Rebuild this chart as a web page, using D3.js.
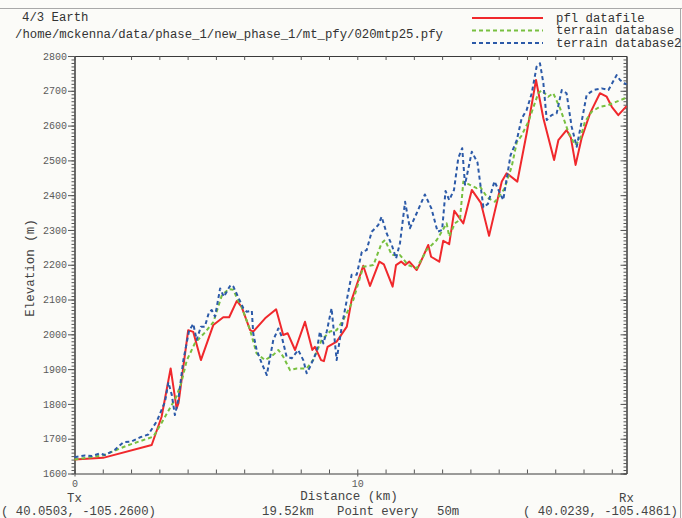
<!DOCTYPE html>
<html>
<head>
<meta charset="utf-8">
<script src="https://cdn.jsdelivr.net/npm/d3@7"></script>
<style>
  body { margin: 0; background: #fbfbf8; }
  svg { display: block; }
  text { font-family: "Liberation Mono", "DejaVu Sans Mono", monospace; }
</style>
</head>
<body>
<svg id="chart" width="682" height="518"></svg>
<script>
// Path profile: distance along path (km) and elevation (m) for each source
const pflKm = [0, 1.01, 2.73, 3.08, 3.40, 3.61, 3.68, 4.02, 4.20, 4.47, 4.91, 5.26, 5.47, 5.74, 5.91, 6.21, 6.32, 6.74, 7.13, 7.38, 7.54, 7.80, 8.15, 8.41, 8.50, 8.72, 8.82, 8.95, 9.27, 9.63, 9.80, 10.21, 10.45, 10.78, 10.94, 11.25, 11.37, 11.55, 11.69, 11.84, 12.10, 12.22, 12.51, 12.61, 12.90, 13.04, 13.25, 13.43, 13.75, 14.05, 14.37, 14.66, 15.11, 15.28, 15.66, 15.99, 16.32, 16.58, 16.96, 17.11, 17.40, 17.55, 17.72, 17.93, 18.23, 18.58, 18.82, 19.00, 19.23, 19.52];
const pflElev = [1640, 1645, 1682, 1763, 1902, 1787, 1803, 2012, 2007, 1926, 2027, 2049, 2049, 2096, 2079, 2012, 2008, 2046, 2072, 1998, 2003, 1955, 2036, 1955, 1964, 1926, 1923, 1964, 1979, 2022, 2099, 2197, 2139, 2209, 2201, 2137, 2199, 2209, 2199, 2209, 2185, 2204, 2257, 2223, 2209, 2269, 2259, 2355, 2319, 2415, 2378, 2283, 2439, 2463, 2439, 2578, 2731, 2621, 2501, 2558, 2587, 2566, 2487, 2563, 2635, 2693, 2683, 2654, 2630, 2656];

const terrainKm = [0, 1.02, 1.85, 2.79, 3.14, 3.61, 3.79, 3.97, 4.26, 4.61, 4.91, 5.21, 5.45, 5.62, 5.74, 5.91, 6.21, 6.44, 6.74, 7.03, 7.21, 7.38, 7.62, 7.86, 8.21, 8.44, 8.74, 9.03, 9.27, 9.50, 9.74, 9.86, 10.21, 10.57, 10.86, 10.98, 11.22, 11.51, 11.80, 12.10, 12.45, 12.81, 13.16, 13.25, 13.45, 13.63, 13.75, 14.00, 14.22, 14.34, 14.60, 14.87, 15.20, 15.46, 15.64, 15.80, 16.05, 16.40, 16.52, 16.75, 16.93, 17.17, 17.46, 17.70, 17.87, 18.05, 18.29, 18.58, 18.88, 19.17, 19.52];
const terrainElev = [1640, 1652, 1680, 1706, 1754, 1822, 1865, 1925, 1975, 2005, 2035, 2112, 2130, 2128, 2105, 2079, 2012, 1945, 1926, 1941, 1955, 1936, 1897, 1902, 1902, 1926, 1984, 2008, 2012, 2041, 2079, 2099, 2194, 2199, 2262, 2271, 2228, 2228, 2199, 2190, 2242, 2271, 2319, 2281, 2319, 2329, 2439, 2429, 2420, 2425, 2393, 2381, 2418, 2482, 2552, 2570, 2611, 2693, 2702, 2683, 2693, 2650, 2582, 2544, 2558, 2611, 2640, 2654, 2659, 2669, 2680];

const terrain2Km = [0, 0.37, 0.62, 0.90, 1.08, 1.43, 1.73, 2.02, 2.32, 2.61, 2.91, 3.20, 3.32, 3.44, 3.55, 3.67, 3.85, 4.05, 4.20, 4.32, 4.47, 4.61, 4.75, 4.85, 4.97, 5.15, 5.28, 5.52, 5.62, 5.77, 5.97, 6.09, 6.27, 6.32, 6.44, 6.62, 6.80, 7.03, 7.21, 7.33, 7.50, 7.68, 7.91, 8.09, 8.21, 8.33, 8.56, 8.68, 8.80, 8.92, 9.09, 9.27, 9.45, 9.63, 9.80, 9.98, 10.16, 10.33, 10.51, 10.74, 10.86, 11.04, 11.22, 11.37, 11.51, 11.69, 11.86, 12.10, 12.39, 12.62, 12.84, 13.00, 13.12, 13.25, 13.42, 13.57, 13.71, 13.81, 14.05, 14.25, 14.46, 14.62, 14.85, 15.05, 15.16, 15.42, 15.64, 15.81, 15.99, 16.17, 16.34, 16.46, 16.58, 16.70, 16.87, 17.05, 17.23, 17.40, 17.58, 17.76, 17.93, 18.11, 18.35, 18.64, 18.88, 19.17, 19.29, 19.52];
const terrain2Elev = [1647, 1652, 1650, 1658, 1653, 1668, 1690, 1692, 1704, 1712, 1750, 1806, 1862, 1826, 1768, 1811, 1926, 2010, 2030, 1984, 2022, 2022, 2062, 2070, 2051, 2132, 2108, 2142, 2137, 2110, 2075, 2065, 2068, 2003, 1955, 1917, 1883, 1984, 2017, 1993, 1936, 1931, 1955, 1926, 1888, 1907, 1950, 2008, 1974, 2008, 2075, 1926, 2022, 2099, 2171, 2171, 2237, 2242, 2295, 2314, 2338, 2290, 2257, 2218, 2262, 2381, 2305, 2348, 2402, 2362, 2295, 2300, 2412, 2386, 2415, 2506, 2535, 2430, 2525, 2494, 2365, 2375, 2440, 2405, 2386, 2515, 2558, 2620, 2645, 2693, 2769, 2779, 2722, 2616, 2630, 2635, 2702, 2693, 2597, 2539, 2610, 2688, 2702, 2707, 2702, 2745, 2731, 2718];

const seriesNames = ["pfl datafile", "terrain database", "terrain database2"];
const yMajorTicks = d3.range(1600, 2801, 100);
const yMinorTicks = d3.range(1600, 2801, 10);
const xKmTicks = d3.range(0, 20, 1);
const xLabelTicks = [0, 10];

const titleLines = ["4/3 Earth", "/home/mckenna/data/phase_1/new_phase_1/mt_pfy/020mtp25.pfy"];
const txCoord = "( 40.0503, -105.2600)";
const rxCoord = "( 40.0239, -105.4861)";

const svg = d3.select("#chart");
const W = 682, H = 518;

svg.append("rect").attr("width", W).attr("height", H).attr("fill", "#fbfbf8");
// outer frame
svg.append("line").attr("x1", 0).attr("x2", W).attr("y1", 8.5).attr("y2", 8.5)
  .attr("stroke", "#a8a8a8").attr("stroke-width", 1);
svg.append("line").attr("x1", 680.5).attr("x2", 680.5).attr("y1", 8).attr("y2", H)
  .attr("stroke", "#a8a8a8").attr("stroke-width", 1);

const x = d3.scaleLinear().domain([0, 19.52]).range([74.5, 626.5]);
const y = d3.scaleLinear().domain([1600, 2800]).range([473.5, 56]);

function styleAxis(g) {
  g.selectAll(".domain").attr("stroke", "#3a3a3a");
  g.selectAll(".tick line").attr("stroke", "#555");
}

// left axis: minor + major ticks
svg.append("g").attr("transform", "translate(74.5,0)")
  .call(d3.axisLeft(y).tickValues(yMinorTicks).tickSize(3).tickFormat("").tickSizeOuter(0))
  .call(styleAxis);
const leftMajor = svg.append("g").attr("transform", "translate(74.5,0)")
  .call(d3.axisLeft(y).tickValues(yMajorTicks).tickSize(6.5).tickPadding(1).tickSizeOuter(0).tickFormat(d3.format("d")))
  .call(styleAxis);
leftMajor.selectAll("text").attr("font-family", "'DejaVu Sans Mono', monospace")
  .attr("font-size", 10).attr("fill", "#5a5a5a");

// right axis, ticks pointing inward
svg.append("g").attr("transform", "translate(626.5,0)")
  .call(d3.axisLeft(y).tickValues(yMinorTicks).tickSize(3).tickFormat("").tickSizeOuter(0))
  .call(styleAxis);
svg.append("g").attr("transform", "translate(626.5,0)")
  .call(d3.axisLeft(y).tickValues(yMajorTicks).tickSize(6).tickFormat("").tickSizeOuter(0))
  .call(styleAxis);

// top axis, ticks pointing down
svg.append("g").attr("transform", "translate(0,56)")
  .call(d3.axisBottom(x).tickValues(xKmTicks).tickSize(4).tickFormat("").tickSizeOuter(0))
  .call(styleAxis);

// bottom axis, ticks pointing up, labels below
svg.append("g").attr("transform", "translate(0,473.5)")
  .call(d3.axisTop(x).tickValues(xKmTicks).tickSize(4).tickFormat("").tickSizeOuter(0))
  .call(styleAxis);
const bottomLabels = svg.append("g").attr("transform", "translate(0,473.5)")
  .call(d3.axisBottom(x).tickValues(xLabelTicks).tickSize(3).tickPadding(3).tickSizeOuter(0).tickFormat(d3.format("d")))
  .call(styleAxis);
bottomLabels.select(".domain").remove();
bottomLabels.selectAll("text").attr("font-family", "'DejaVu Sans Mono', monospace")
  .attr("font-size", 10).attr("fill", "#5a5a5a");

// profile lines
const zip = (a, b) => a.map((v, i) => [v, b[i]]);
const line = d3.line().x(d => x(d[0])).y(d => y(d[1]));
const series = [
  { name: seriesNames[0], data: zip(pflKm, pflElev), color: "#f0282c", dash: null },
  { name: seriesNames[1], data: zip(terrainKm, terrainElev), color: "#78c040", dash: "4,3" },
  { name: seriesNames[2], data: zip(terrain2Km, terrain2Elev), color: "#2c5aa8", dash: "4,3" }
];
series.forEach(s => {
  svg.append("path").datum(s.data)
    .attr("d", line)
    .attr("fill", "none")
    .attr("stroke", s.color)
    .attr("stroke-width", 2)
    .attr("stroke-linejoin", "round")
    .attr("stroke-dasharray", s.dash);
});

// legend
const legendY = [18, 30.5, 43];
series.forEach((s, i) => {
  svg.append("line").attr("x1", 472).attr("x2", 543)
    .attr("y1", legendY[i]).attr("y2", legendY[i])
    .attr("stroke", s.color).attr("stroke-width", 2)
    .attr("stroke-dasharray", s.dash);
  svg.append("text").attr("x", 556).attr("y", legendY[i] + 3.5)
    .attr("font-size", 12.3).attr("fill", "#333").text(s.name);
});

// header text
svg.append("text").attr("x", 22).attr("y", 20.5).attr("font-size", 12.3)
  .attr("fill", "#333").text(titleLines[0]);
svg.append("text").attr("x", 15).attr("y", 37.5).attr("font-size", 12.3)
  .attr("fill", "#333").text(titleLines[1]);

// axis titles
svg.append("text").attr("transform", "translate(34,268) rotate(-90)")
  .attr("text-anchor", "middle").attr("font-size", 12.5).attr("fill", "#444")
  .text("Elevation (m)");
svg.append("text").attr("x", 349).attr("y", 500).attr("text-anchor", "middle")
  .attr("font-size", 12.5).attr("fill", "#444").text("Distance (km)");

// path endpoints
svg.append("text").attr("x", x(0)).attr("y", 502).attr("text-anchor", "middle")
  .attr("font-size", 12.3).attr("fill", "#444").text("Tx");
svg.append("text").attr("x", x(19.52)).attr("y", 502).attr("text-anchor", "middle")
  .attr("font-size", 12.3).attr("fill", "#444").text("Rx");
svg.append("text").attr("x", 1).attr("y", 514.5).attr("font-size", 12.3)
  .attr("fill", "#444").attr("xml:space", "preserve").text(txCoord);
svg.append("text").attr("x", 678).attr("y", 514.5).attr("text-anchor", "end").attr("font-size", 12.3)
  .attr("fill", "#444").attr("xml:space", "preserve").text(rxCoord);
svg.append("text").attr("x", 262).attr("y", 514.5).attr("font-size", 12.3)
  .attr("fill", "#444").text("19.52km");
svg.append("text").attr("x", 337).attr("y", 514.5).attr("font-size", 12.3)
  .attr("fill", "#444").text("Point every");
svg.append("text").attr("x", 437).attr("y", 514.5).attr("font-size", 12.3)
  .attr("fill", "#444").text("50m");
</script>
</body>
</html>
